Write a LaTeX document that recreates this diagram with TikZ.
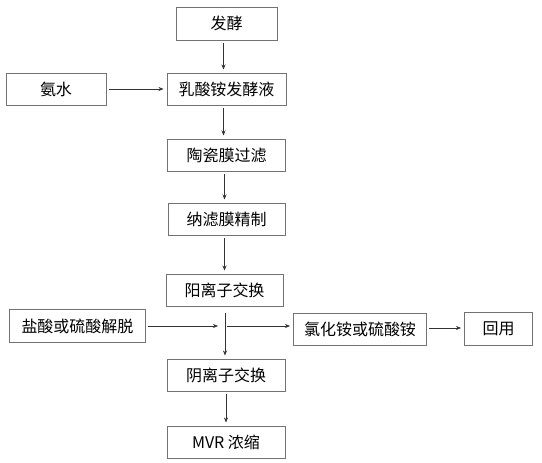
\documentclass[tikz,border=0pt]{standalone}
\usepackage{fontspec}
\newfontfamily\cjk{Noto Sans CJK SC}
\usetikzlibrary{positioning, calc, arrows.meta}
\tikzset{stage/.style={draw=black!55, line width=1pt, inner sep=0pt, minimum height=32pt, font=\cjk\fontsize{16}{18}\selectfont, text=black}}
\tikzset{arr/.style={draw=black!80, line width=0.6pt, -{Stealth[length=5pt, width=4pt]}, shorten <=2pt, shorten >=3pt}}

\begin{document}
\begin{tikzpicture}[x=1pt, y=1pt]
	\useasboundingbox (0,0) rectangle (542,-463);
	\node[stage, minimum width=101pt, minimum height=33pt] (Ferm) at (226.5,-23.5) {发酵};
	\node[stage, minimum width=119pt, below=32pt of Ferm] (Broth) {乳酸铵发酵液};
	\node[stage, minimum width=100pt, left=60pt of Broth] (Ammo) {氨水};
	\node[stage, minimum width=118pt, below=33pt of Broth] (Ceram) {陶瓷膜过滤};
	\node[stage, minimum width=117pt, below=31pt of Ceram] (Nano) {纳滤膜精制};
	\node[stage, minimum width=117pt, below=38pt of Nano, xshift=-2pt] (Cation) {阳离子交换};
	\node[stage, minimum width=118pt, below=52pt of Cation, xshift=1.5pt] (Anion) {阴离子交换};
	\node[stage, minimum width=118pt, below=34pt of Anion] (MVR) {MVR 浓缩};
	\coordinate (J) at (225,-326);
	\node[stage, minimum width=136pt, minimum height=33pt, left=79pt of J] (Acid) {盐酸或硫酸解脱};
	\node[stage, minimum width=133pt, right=68pt of J, yshift=-3pt] (Salt) {氯化铵或硫酸铵};
	\node[stage, minimum width=68pt, minimum height=33pt, right=37pt of Salt] (Reuse) {回用};
	% main column
	\draw[arr] ([xshift=-3pt]Ferm.south) -- ([xshift=-3pt]Ferm.south |- Broth.north);
	\draw[arr] (Ammo.east) -- (Broth.west);
	\draw[arr] ([xshift=-3pt]Broth.south) -- ([xshift=-3pt]Broth.south |- Ceram.north);
	\draw[arr] ([xshift=-2pt]Ceram.south) -- ([xshift=-2pt]Ceram.south |- Nano.north);
	\draw[arr] ([xshift=-2pt]Nano.south) -- ([xshift=-2pt]Nano.south |- Cation.north);
	\draw[arr, shorten <=6pt] ([xshift=0.5pt]Cation.south) -- ([xshift=0.5pt]Cation.south |- Anion.north);
	\draw[arr] (Anion.south) -- (Anion.south |- MVR.north);
	% elution
	\draw[arr, shorten >=7pt] (Acid.east) -- (Acid.east -| J);
	\draw[arr, shorten <=2pt] (J) -- (J -| Salt.west);
	\draw[arr] ([yshift=1pt]Salt.east) -- ([yshift=1pt]Salt.east -| Reuse.west);
\end{tikzpicture}
\end{document}
